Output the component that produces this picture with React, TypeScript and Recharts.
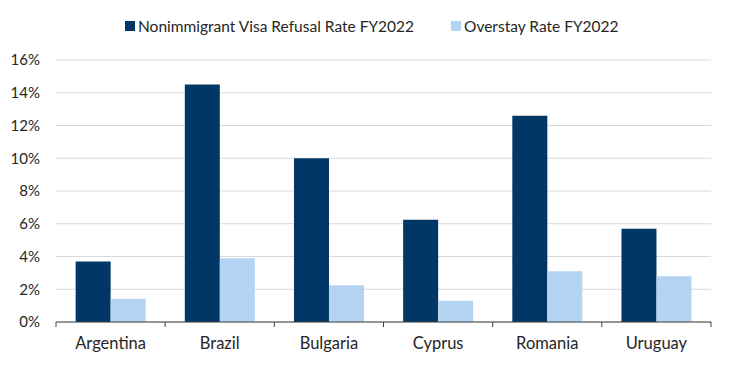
import React from 'react';
import { BarChart, Bar, XAxis, YAxis, CartesianGrid, Legend } from 'recharts';

const countries = ['Argentina', 'Brazil', 'Bulgaria', 'Cyprus', 'Romania', 'Uruguay'];
const refusalRate = [3.7, 14.5, 10.0, 6.25, 12.6, 5.7];
const overstayRate = [1.4, 3.9, 2.25, 1.3, 3.1, 2.8];
const yTicks = [0, 2, 4, 6, 8, 10, 12, 14, 16];

const seriesNames = ['Nonimmigrant Visa Refusal Rate FY2022', 'Overstay Rate FY2022'];
const colors = ['#003764', '#b4d3f2'];

const data = countries.map((name, i) => ({
  name,
  refusal: refusalRate[i],
  overstay: overstayRate[i],
}));

const FONT = 'Lato, "Noto Sans", sans-serif';
const W = 730;
const H = 365;
const MARGIN = { top: 38, right: 19, bottom: 0, left: 10 };
const Y_AXIS_W = 46;
const BAND = (W - MARGIN.left - MARGIN.right - Y_AXIS_W) / countries.length;
const LEGEND_X = [125, 451];

function CountryTick(props: any) {
  const { x, y, payload, index } = props;
  const left = x - BAND / 2;
  const right = x + BAND / 2;
  return (
    <g>
      <line x1={left} y1={y} x2={left} y2={y + 5} stroke="#404040" strokeWidth={1} />
      {index === countries.length - 1 && (
        <line x1={right} y1={y} x2={right} y2={y + 5} stroke="#404040" strokeWidth={1} />
      )}
      <text x={x} y={y + 27} textAnchor="middle" fill="#262626" fontSize={16.5} fontFamily={FONT}>
        {payload.value}
      </text>
    </g>
  );
}

function LegendBox() {
  return (
    <div style={{ position: 'relative', width: W, height: 22, fontFamily: FONT, fontSize: 15.5, color: '#262626' }}>
      {seriesNames.map((s, i) => (
        <div
          key={s}
          style={{ position: 'absolute', left: LEGEND_X[i], top: 0, height: 22, display: 'flex', alignItems: 'center', whiteSpace: 'nowrap' }}
        >
          <span style={{ display: 'inline-block', width: 10, height: 10, background: colors[i], marginRight: 3 }} />
          <span>{s}</span>
        </div>
      ))}
    </div>
  );
}

export default function App() {
  return (
    <div style={{ position: 'absolute', left: 0, top: 0, width: W, height: H, background: '#fff' }}>
      <BarChart width={W} height={H} data={data} margin={MARGIN} barCategoryGap="18%" barGap={0}>
        <Legend
          verticalAlign="top"
          align="left"
          content={() => <LegendBox />}
          wrapperStyle={{ left: 0, top: 15, width: W }}
        />
        <CartesianGrid horizontal vertical={false} stroke="#d9d9d9" strokeWidth={1} />
        <XAxis
          dataKey="name"
          height={43}
          tickSize={0}
          tickMargin={0}
          axisLine={{ stroke: '#404040', strokeWidth: 1 }}
          tick={<CountryTick />}
          interval={0}
        />
        <YAxis
          width={Y_AXIS_W}
          domain={[0, 16]}
          ticks={yTicks}
          tickFormatter={(v: number) => `${v}%`}
          axisLine={false}
          tickLine={false}
          tickSize={0}
          tickMargin={16}
          tick={{ fill: '#262626', fontSize: 15, fontFamily: FONT }}
        />
        <Bar dataKey="refusal" name={seriesNames[0]} fill={colors[0]} isAnimationActive={false} />
        <Bar dataKey="overstay" name={seriesNames[1]} fill={colors[1]} isAnimationActive={false} />
      </BarChart>
    </div>
  );
}
